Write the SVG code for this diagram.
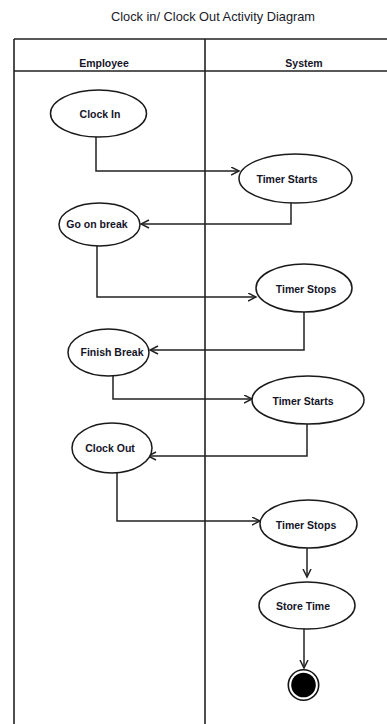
<svg xmlns="http://www.w3.org/2000/svg" width="387" height="724" viewBox="0 0 387 724">
<style>
.frame{stroke:#222;stroke-width:1.6;fill:none}
.node ellipse{fill:#fff;stroke:#1a1a1a;stroke-width:1.5}
.lbl{font-family:"Liberation Sans",Arial,sans-serif;font-weight:bold;font-size:10.5px;fill:#141428;text-anchor:middle;dominant-baseline:central}
.title{font-family:"Liberation Sans",Arial,sans-serif;font-size:12.8px;fill:#1a1a2a;text-anchor:middle}
.conn{fill:none;stroke:#222;stroke-width:1.5;marker-end:url(#arr)}
</style>
<defs>
<marker id="arr" markerUnits="userSpaceOnUse" markerWidth="10" markerHeight="10" refX="8.5" refY="4.5" orient="auto">
<path d="M0.5,0.5 L8.5,4.5 L0.5,8.5" fill="none" stroke="#222" stroke-width="1.5"/>
</marker>
</defs>
<rect width="387" height="724" fill="#fff"/>
<text class="title" x="213" y="21">Clock in/ Clock Out Activity Diagram</text>
<g id="swimlanes">
<path class="frame" d="M14,39 H387 M14,71 H387 M14,39 V724 M205,39 V724"/>
<text class="lbl" x="104" y="63">Employee</text>
<text class="lbl" x="304" y="63">System</text>
</g>
<g id="connectors">
<polyline class="conn" points="96,137 96,171 239,171"/>
<polyline class="conn" points="291,203 291,224 141,224"/>
<polyline class="conn" points="97,246 97,297 256,297"/>
<polyline class="conn" points="304,312 304,350 150,350"/>
<polyline class="conn" points="113,376 113,399 252,399"/>
<polyline class="conn" points="307,424 307,456 148,456"/>
<polyline class="conn" points="117,473 117,521 260,521"/>
<polyline class="conn" points="307,548 307,577"/>
<polyline class="conn" points="304,629 304,668"/>
</g>
<g id="clock-in" class="node"><ellipse cx="98.5" cy="113.5" rx="48" ry="23.5"/><text class="lbl" x="100" y="114">Clock In</text></g>
<g id="timer-starts-1" class="node"><ellipse cx="295.5" cy="178.5" rx="56.5" ry="24.5"/><text class="lbl" x="287" y="178.5">Timer Starts</text></g>
<g id="go-on-break" class="node"><ellipse cx="99.5" cy="224.5" rx="40.5" ry="21.5"/><text class="lbl" x="97" y="224">Go on break</text></g>
<g id="timer-stops-1" class="node"><ellipse cx="304" cy="288" rx="48" ry="24"/><text class="lbl" x="306" y="289">Timer Stops</text></g>
<g id="finish-break" class="node"><ellipse cx="108.5" cy="352.5" rx="40.5" ry="23.5"/><text class="lbl" x="112" y="351.5">Finish Break</text></g>
<g id="timer-starts-2" class="node"><ellipse cx="308" cy="400" rx="56" ry="24"/><text class="lbl" x="303" y="400.5">Timer Starts</text></g>
<g id="clock-out" class="node"><ellipse cx="112" cy="448" rx="40" ry="25"/><text class="lbl" x="110" y="448">Clock Out</text></g>
<g id="timer-stops-2" class="node"><ellipse cx="308.5" cy="524" rx="48.5" ry="24"/><text class="lbl" x="306" y="525">Timer Stops</text></g>
<g id="store-time" class="node"><ellipse cx="307" cy="605.5" rx="48" ry="23.5"/><text class="lbl" x="303" y="605.5">Store Time</text></g>
<g id="final" class="node"><circle cx="303.5" cy="685" r="15.2" fill="#fff" stroke="#111" stroke-width="1.6"/><circle cx="303.5" cy="685" r="12.3" fill="#000"/></g>
</svg>
